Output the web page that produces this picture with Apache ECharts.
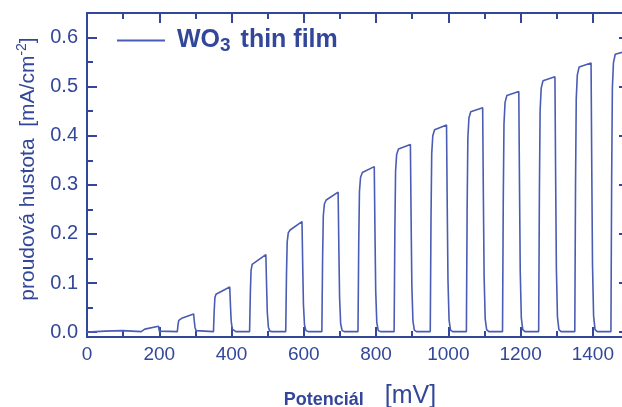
<!DOCTYPE html>
<html><head><meta charset="utf-8">
<script src="https://cdn.jsdelivr.net/npm/echarts@6/dist/echarts.min.js"></script>
<style>html,body{margin:0;padding:0;background:#fff}#c{width:622px;height:407px}</style>
</head><body><div id="c"></div>
<script>
// Potential (mV) and photocurrent density (mA/cm^2)
const potential = [
  0, 25, 50, 98, 100, 150, 152, 160, 198, 200, 205,
  250, 252, 254, 258, 262, 295, 297, 299, 302, 306,
  350, 352, 354, 357, 362, 395, 397, 399, 402, 406, 412,
  450, 452, 454, 457, 462, 495, 497, 499, 502, 506, 512,
  550, 552, 554, 557, 562, 595, 597, 599, 602, 606, 612,
  650, 652, 654, 657, 662, 695, 697, 699, 702, 706, 712,
  750, 752, 754, 757, 762, 795, 797, 799, 802, 806, 812,
  850, 852, 854, 857, 862, 895, 897, 899, 902, 906, 912,
  950, 952, 954, 957, 962, 995, 997, 999, 1002, 1006, 1012,
  1050, 1052, 1054, 1057, 1062, 1095, 1097, 1099, 1102, 1106, 1112,
  1150, 1152, 1154, 1157, 1162, 1195, 1197, 1199, 1202, 1206, 1212,
  1250, 1252, 1254, 1257, 1262, 1295, 1297, 1299, 1302, 1306, 1312,
  1350, 1352, 1354, 1357, 1362, 1395, 1397, 1399, 1402, 1406, 1412,
  1450, 1452, 1454, 1457, 1462, 1495
];
const currentDensity = [
  0.000, 0.001, 0.002, 0.003, 0.001, 0.001, 0.004, 0.006, 0.012, 0.002, 0.001,
  0.001, 0.016, 0.024, 0.027, 0.028, 0.037, 0.022, 0.009, 0.003, 0.001,
  0.001, 0.043, 0.070, 0.077, 0.079, 0.092, 0.055, 0.023, 0.006, 0.002, 0.001,
  0.001, 0.078, 0.125, 0.138, 0.142, 0.158, 0.095, 0.040, 0.010, 0.002, 0.001,
  0.001, 0.114, 0.183, 0.202, 0.208, 0.225, 0.135, 0.056, 0.014, 0.003, 0.001,
  0.001, 0.148, 0.237, 0.261, 0.269, 0.285, 0.171, 0.071, 0.017, 0.003, 0.001,
  0.001, 0.179, 0.286, 0.315, 0.325, 0.337, 0.202, 0.084, 0.020, 0.003, 0.001,
  0.001, 0.205, 0.328, 0.362, 0.373, 0.382, 0.229, 0.096, 0.023, 0.004, 0.001,
  0.001, 0.227, 0.363, 0.400, 0.412, 0.422, 0.253, 0.106, 0.025, 0.004, 0.001,
  0.001, 0.247, 0.395, 0.436, 0.449, 0.457, 0.274, 0.114, 0.027, 0.005, 0.001,
  0.001, 0.265, 0.424, 0.468, 0.482, 0.490, 0.294, 0.123, 0.029, 0.005, 0.001,
  0.001, 0.282, 0.451, 0.497, 0.512, 0.520, 0.312, 0.130, 0.031, 0.005, 0.001,
  0.001, 0.297, 0.475, 0.524, 0.540, 0.548, 0.329, 0.137, 0.033, 0.005, 0.001,
  0.001, 0.311, 0.498, 0.549, 0.566, 0.573
];
const xTickLabels = [0, 200, 400, 600, 800, 1000, 1200, 1400];
const xMinorTicks = [100, 300, 500, 700, 900, 1100, 1300];
const yTickLabels = [0, 0.1, 0.2, 0.3, 0.4, 0.5, 0.6];
const yMinorTicks = [0.05, 0.15, 0.25, 0.35, 0.45, 0.55];
const seriesName = 'WO3 thin film';

const AX = '#33479a';
const LINE = '#4a5cb3';
const FONT = '"Liberation Sans", Arial, Helvetica, sans-serif';
const X_MIN = 0, X_MAX = 1500, Y_MIN = -0.01, Y_MAX = 0.65;

function mkX(pos, ticks, len, showLine, extra) {
  return Object.assign({
    type: 'value', position: pos, min: X_MIN, max: X_MAX,
    axisLine: { show: showLine, onZero: false, lineStyle: { color: AX, width: 2 } },
    axisTick: { show: true, inside: true, length: len, customValues: ticks, lineStyle: { color: AX, width: 2 } },
    axisLabel: { show: false },
    splitLine: { show: false }
  }, extra || {});
}
function mkY(pos, ticks, len, showLine, extra) {
  return Object.assign({
    type: 'value', position: pos, min: Y_MIN, max: Y_MAX,
    axisLine: { show: showLine, onZero: false, lineStyle: { color: AX, width: 2 } },
    axisTick: { show: true, inside: true, length: len, customValues: ticks, lineStyle: { color: AX, width: 2 } },
    axisLabel: { show: false },
    splitLine: { show: false }
  }, extra || {});
}

const chart = echarts.init(document.getElementById('c'), null, { renderer: 'canvas' });
chart.setOption({
  animation: false,
  backgroundColor: '#fff',
  textStyle: { fontFamily: FONT },
  grid: { left: 87, top: 13, width: 542, height: 324, containLabel: false, outerBoundsMode: 'none' },
  legend: {
    show: true, left: 117, top: 28, padding: 0,
    icon: 'rect', itemWidth: 48, itemHeight: 2,
    selectedMode: false,
    data: [seriesName],
    formatter: function () { return '{w|WO}{s|3}{t| thin film}'; },
    textStyle: {
      color: AX,
      rich: {
        w: { fontSize: 25, fontWeight: 'bold', color: AX, fontFamily: FONT, lineHeight: 30, padding: [0, 0, 0, 7] },
        s: { fontSize: 19, fontWeight: 'bold', color: AX, fontFamily: FONT, lineHeight: 10, verticalAlign: 'bottom' },
        t: { fontSize: 25, fontWeight: 'bold', color: AX, fontFamily: FONT, lineHeight: 30, padding: [0, 0, 0, 3] }
      }
    }
  },
  xAxis: [
    mkX('bottom', xTickLabels, 10, true, {
      axisLabel: {
        show: true, customValues: xTickLabels, color: AX, fontSize: 19, fontFamily: FONT, margin: 8,
        formatter: function (v) { return String(v); }
      },
      name: '{a|Potenciál}{b|[mV]}',
      nameLocation: 'middle', nameGap: 44,
      nameTextStyle: {
        padding: [0, 0, 0, 4],
        rich: {
          a: { fontSize: 18, fontWeight: 'bold', color: AX, fontFamily: FONT, lineHeight: 26, verticalAlign: 'bottom' },
          b: { fontSize: 25, color: AX, fontFamily: FONT, lineHeight: 28, verticalAlign: 'bottom', padding: [0, 0, 0, 21] }
        }
      }
    }),
    mkX('bottom', xMinorTicks, 6, false),
    mkX('top', xTickLabels, 10, true),
    mkX('top', xMinorTicks, 6, false)
  ],
  yAxis: [
    mkY('left', yTickLabels, 10, true, {
      axisLabel: {
        show: true, customValues: yTickLabels, color: AX, fontSize: 20, fontFamily: FONT, margin: 9,
        formatter: function (v) { return v.toFixed(1); }
      },
      name: '{a|proudová hustota  [mA/cm}{s|-2}{a|]}',
      nameLocation: 'middle', nameRotate: 90, nameGap: 46,
      nameTextStyle: {
        padding: [0, 0, 0, 12],
        rich: {
          a: { fontSize: 21, color: AX, fontFamily: FONT, lineHeight: 26 },
          s: { fontSize: 14, color: AX, fontFamily: FONT, lineHeight: 26, verticalAlign: 'top' }
        }
      }
    }),
    mkY('left', yMinorTicks, 6, false),
    mkY('right', yTickLabels, 10, true),
    mkY('right', yMinorTicks, 6, false)
  ],
  series: [{
    name: seriesName,
    type: 'line',
    xAxisIndex: 0, yAxisIndex: 0,
    data: potential.map(function (p, i) { return [p, currentDensity[i]]; }),
    showSymbol: false, symbol: 'none',
    smooth: false,
    lineStyle: { color: LINE, width: 1.6 },
    itemStyle: { color: LINE },
    clip: true
  }]
});
</script>
</body></html>
